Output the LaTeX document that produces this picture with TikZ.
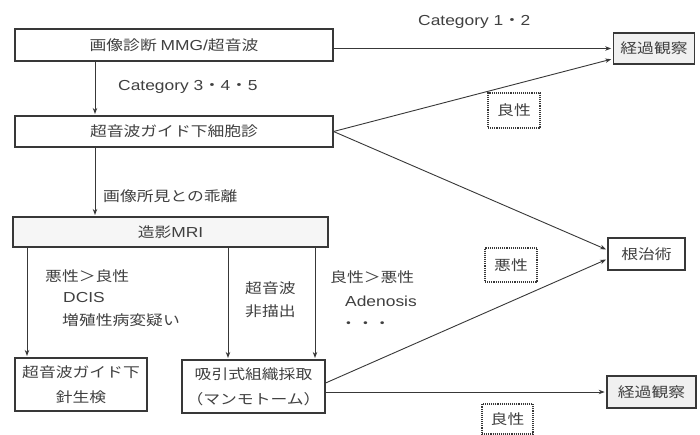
\documentclass[tikz,border=0pt]{standalone}
\usepackage{fontspec}
\setmainfont{Liberation Sans}[FakeStretch=1.2]
\newfontfamily\jpfont{Noto Sans CJK JP}[FakeStretch=1.2]
\usetikzlibrary{arrows.meta}
\definecolor{ink}{gray}{0.22}
\definecolor{txt}{gray}{0.25}
\newcommand{\JPtxt}[1]{{\jpfont #1}}
\begin{document}
\begin{tikzpicture}[x=1pt,y=-1pt,
  box/.style={draw=ink,line width=1.1pt,fill=white,inner sep=0pt,text=txt,align=center,
    font=\jpfont\fontsize{14}{25}\selectfont},
  obsbox/.style={box,line width=1.7pt,fill=gray!12},
  mribox/.style={box,fill=gray!7},
  dbox/.style={draw=ink,densely dotted,line width=1.1pt,inner sep=0pt,text=txt,
    font=\jpfont\fontsize{14}{17}\selectfont},
  lbl/.style={anchor=west,inner sep=0pt,text=txt,font=\jpfont\fontsize{14}{17}\selectfont},
  elbl/.style={anchor=west,inner sep=0pt,text=txt,font=\fontsize{14.5}{17}\selectfont},
  arr/.style={draw=ink,line width=0.9pt,-{Stealth[length=6pt,width=4.5pt]},shorten >=1.5pt}
]
\fill[white] (0,0) rectangle (700,434);
\useasboundingbox (0,0) rectangle (700,434);

% main boxes
\node[box,minimum width=318pt,minimum height=32pt] (b1) at (174,45)
  {画像診断\ {\fontspec{Liberation Sans}[FakeStretch=1.2]\fontsize{14.5}{17}\selectfont MMG/}超音波};
\node[box,minimum width=318pt,minimum height=31pt] (b2) at (174,131.5) {超音波ガイド下細胞診};
\node[mribox,minimum width=315pt,minimum height=30pt] (b3) at (170.5,232)
  {造影{\fontspec{Liberation Sans}[FakeStretch=1.2]\fontsize{14.5}{17}\selectfont MRI}};
\node[box,minimum width=132pt,minimum height=53pt] (b4) at (81,384.5) {超音波ガイド下\\針生検};
\node[box,minimum width=143pt,minimum height=53pt] (b5) at (253.5,386.5) {吸引式組織採取\\（マンモトーム）};

% outcome boxes
\node[obsbox,minimum width=81pt,minimum height=31pt] (obs1) at (654,48.5) {経過観察};
\node[box,minimum width=77pt,minimum height=32pt] (cure) at (646.5,254) {根治術};
\node[obsbox,minimum width=89pt,minimum height=32pt] (obs2) at (651.5,392) {経過観察};

% dashed label boxes
\node[dbox,minimum width=52pt,minimum height=35pt] (d1) at (514,110.5) {良性};
\node[dbox,minimum width=52pt,minimum height=34pt] (d2) at (511,265) {悪性};
\node[dbox,minimum width=51pt,minimum height=30pt] (d3) at (507.5,419) {良性};

% labels
\node[elbl] (c12) at (418,22) {Category 1\JPtxt{・}2};
\node[elbl] (c345) at (118,87) {Category 3\JPtxt{・}4\JPtxt{・}5};
\node[lbl] (gap) at (103,196) {画像所見との乖離};
\node[lbl] (m1) at (45,276) {悪性＞良性};
\node[elbl] (m2) at (63,298) {DCIS};
\node[lbl] (m3) at (62,320) {増殖性病変疑い};
\node[lbl] (u1) at (245,288.5) {超音波};
\node[lbl] (u2) at (245,311.5) {非描出};
\node[lbl] (g1) at (330,277) {良性＞悪性};
\node[elbl] (g2) at (345,301) {Adenosis};
\node[lbl] (g3) at (340,325) {・・・};

% x positions of vertical connectors
\coordinate (x95) at (95,0);
\coordinate (x27) at (27,0);
\coordinate (x228) at (228,0);
\coordinate (x315) at (315,0);

% connectors
\draw[arr] (b1.south -| x95) -- (b2.north -| x95);
\draw[arr] (b2.south -| x95) -- (b3.north -| x95);
\draw[arr] (b3.south -| x27) -- (b4.north -| x27);
\draw[arr] (b3.south -| x228) -- (b5.north -| x228);
\draw[arr] (b3.south -| x315) -- (b5.north -| x315);

\draw[arr] (b1.east |- obs1.west) -- (obs1.west);
\draw[arr] (b2.east) -- ([yshift=6pt]obs1.south west);
\draw[arr] (b2.east) -- ([yshift=4pt]cure.west);
\draw[arr] ([yshift=3.5pt]b5.east) -- ([yshift=-5pt]cure.west);
\draw[arr] (b5.east |- obs2.west) -- (obs2.west);
\end{tikzpicture}
\end{document}
